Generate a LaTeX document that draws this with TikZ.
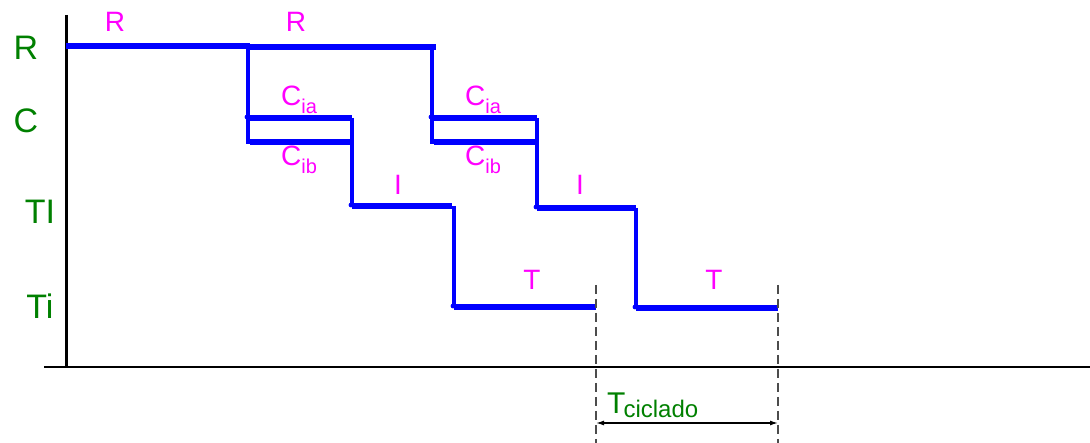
\documentclass[tikz,border=0pt]{standalone}
\usepackage{fontspec}
\setmainfont{Liberation Sans}
\usetikzlibrary{arrows.meta}
\definecolor{stepblue}{RGB}{0,0,255}
\definecolor{lvlgreen}{RGB}{0,128,0}
\definecolor{tagpink}{RGB}{255,0,255}
\newcommand{\subtag}[1]{\raisebox{-0.3em}{\fontsize{20}{20}\selectfont #1}}
\tikzset{
  x=1pt, y=-1pt,
  axis/.style={black, line width=3pt},
  baseline/.style={black, line width=1.5pt},
  level/.style={stepblue, line width=6pt},
  drop/.style={stepblue, line width=3.2pt},
  guide/.style={black!70, line width=1.3pt, dash pattern=on 9pt off 5pt},
  lvltext/.style={text=lvlgreen, font=\fontsize{34}{34}\selectfont, inner sep=0pt},
  tag/.style={text=tagpink, font=\fontsize{28}{28}\selectfont, inner sep=0pt}
}
\begin{document}
\begin{tikzpicture}
\useasboundingbox (0,0) rectangle (1090,443);

% axes
\draw[axis] (66,15) -- (66,368);
\draw[baseline] (44,367) -- (1090,367);

% level names
\node[lvltext] (lR) at (26,48) {R};
\node[lvltext] (lC) at (26,121) {C};
\node[lvltext] (lTI) at (40,212) {TI};
\node[lvltext] (lTi) at (40,306) {Ti};

% first cycle
\coordinate (r0) at (66,46);
\coordinate (r1) at (250,46);
\coordinate (a1) at (248,118);
\coordinate (a2) at (352,118);
\coordinate (b1) at (250,142);
\coordinate (b2) at (352,142);
\coordinate (i1) at (352,206);
\coordinate (i2) at (452,206);
\coordinate (t1) at (454,307);
\coordinate (t2) at (596,307);

% second cycle
\coordinate (r2) at (436,47);
\coordinate (a3) at (432,118);
\coordinate (a4) at (537,118);
\coordinate (b3) at (434,142);
\coordinate (b4) at (537,142);
\coordinate (i3) at (537,208);
\coordinate (i4) at (636,208);
\coordinate (t3) at (636,308);
\coordinate (t4) at (778,308);

% horizontal levels
\draw[level] (r0) -- (r1);
\draw[level] (250,47) -- (r2);
\draw[level] (a1) -- (a2);
\draw[level] (b1) -- (b2);
\draw[level] (i1) -- (i2);
\draw[level] (t1) -- (t2);
\draw[level] (a3) -- (a4);
\draw[level] (b3) -- (b4);
\draw[level] (i3) -- (i4);
\draw[level] (t3) -- (t4);

% transitions
\draw[drop] (248,46) -- (a1);
\draw[drop] (a1) -- (248,142) -- (b1);
\draw[drop] (a2) -- (i1);
\draw[drop] (454,206) -- (t1);
\draw[drop] (432,47) -- (a3);
\draw[drop] (a3) -- (432,142) -- (b3);
\draw[drop] (a4) -- (i3);
\draw[drop] (t3 |- i4) -- (t3);

% corner dots
\foreach \p in {a1,b1,i1,t1,a3,b3,i3,t3}
  \fill[stepblue] (\p) ++(-1,-1) circle (2.4pt);

% phase tags
\node[tag] (tR1) at (115,22) {R};
\node[tag] (tR2) at (296,22) {R};
\node[tag] (tCa1) at (299,100) {C\subtag{ia}};
\node[tag] (tCb1) at (299,160) {C\subtag{ib}};
\node[tag] (tI1) at (398,185) {I};
\node[tag] (tT1) at (532,280) {T};
\node[tag] (tCa2) at (483,100) {C\subtag{ia}};
\node[tag] (tCb2) at (483,160) {C\subtag{ib}};
\node[tag] (tI2) at (580,185) {I};
\node[tag] (tT2) at (714,280) {T};

% cycle time dimension
\coordinate (g1) at (596,285);
\coordinate (g2) at (778,285);
\draw[guide] (g1) -- (596,443);
\draw[guide] (g2) -- (778,443);
\coordinate (d1) at (596,423);
\coordinate (d2) at (778,423);
\draw[black, line width=1.3pt, {Latex[length=8pt,width=5pt]}-{Latex[length=8pt,width=5pt]}] (d1) -- (d2);
\node[text=lvlgreen, inner sep=0pt, anchor=base west] (tc) at (607,414)
  {\fontsize{30}{30}\selectfont T\hspace{-2pt}\raisebox{-0.12em}{\fontsize{24}{24}\selectfont ciclado}};
\end{tikzpicture}
\end{document}
